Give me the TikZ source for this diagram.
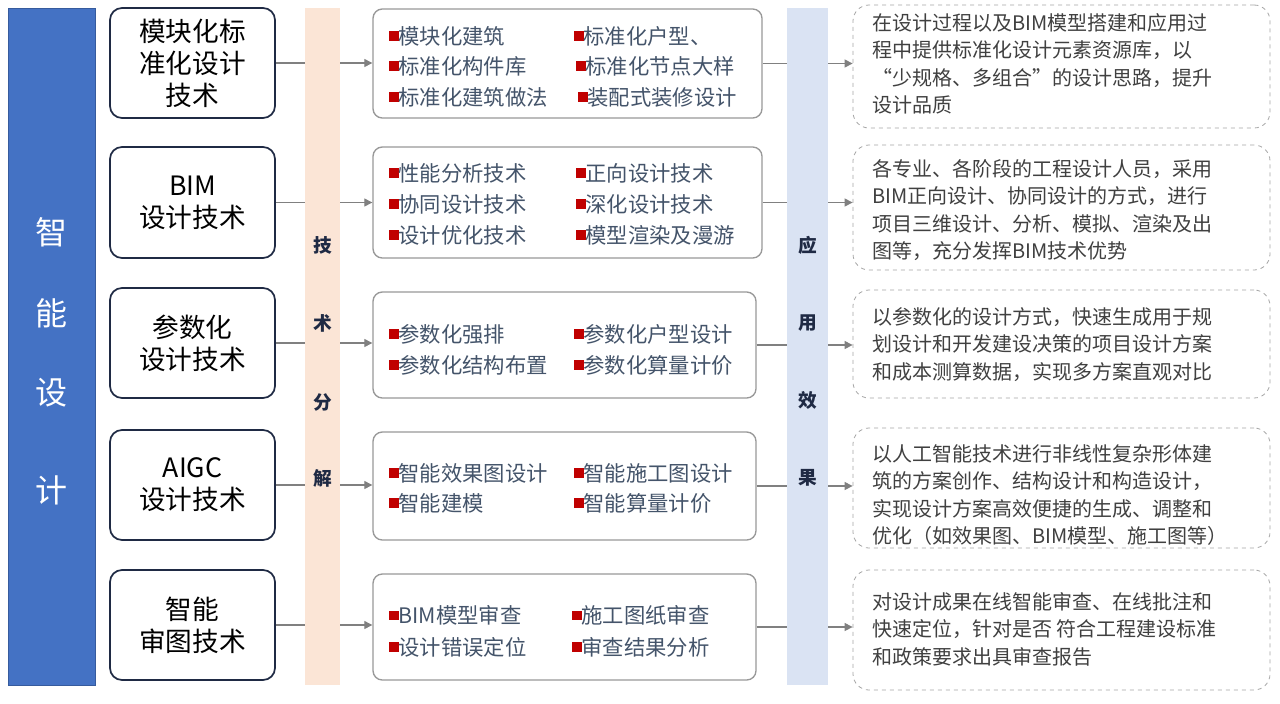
\documentclass[tikz,border=0pt]{standalone}
\usepackage{fontspec}
\setmainfont{Noto Sans CJK SC}
\usetikzlibrary{arrows.meta}
\definecolor{bluebar}{HTML}{4472C4}
\definecolor{peach}{HTML}{FBE5D6}
\definecolor{lblue}{HTML}{DAE3F3}
\definecolor{navy}{HTML}{1F2A44}
\definecolor{txt}{HTML}{44546A}
\definecolor{sq}{HTML}{C00000}
\definecolor{gtxt}{HTML}{404040}
\tikzset{
 lbox/.style={draw=navy,line width=1.3pt,rounded corners=9pt,fill=white,font=\fontsize{20}{24}\selectfont,align=center,text=black},
 mbox/.style={draw=gray!80,line width=1pt,rounded corners=7pt,fill=white},
 rbox/.style={draw=gray!70,dashed,line width=0.6pt,rounded corners=12pt,fill=white},
 item/.style={anchor=west,inner sep=0pt,font=\fontsize{16}{18}\selectfont,text=txt},
 rtxt/.style={anchor=north west,align=left,inner sep=0pt,font=\fontsize{15}{20.6}\selectfont,text=gtxt},
 conn/.style={draw=gray,line width=0.8pt},
 arr/.style={conn,-{Triangle[length=6pt,width=6pt]}},
 bartxt/.style={font=\bfseries\fontsize{14}{16}\selectfont,text=navy},
}
\newcommand{\sqm}{{\color{sq}\raisebox{2.5pt}{\rule{7pt}{7pt}}}}
\begin{document}
\begin{tikzpicture}[x=0.75pt,y=-0.75pt]
\useasboundingbox (0,0) rectangle (1280,703);
\fill[white] (0,0) rectangle (1280,703);
% bars
\node[fill=bluebar,draw=bluebar!80!black,minimum width=87*0.75pt,minimum height=677*0.75pt,inner sep=0pt] (zn) at (51.5,346.5) {};
\foreach \c/\y in {智/232,能/313,设/393,计/490}{\node[text=white,font=\fontsize{24}{26}\selectfont] at (51.5,\y) {\c};}
\node[fill=peach,minimum width=35*0.75pt,minimum height=677*0.75pt,inner sep=0pt] (js) at (322.5,346.5) {};
\foreach \c/\y in {技/245,术/323,分/402,解/478}{\node[bartxt] at (322.5,\y) {\c};}
\node[fill=lblue,minimum width=41*0.75pt,minimum height=677*0.75pt,inner sep=0pt] (yy) at (807.5,346.5) {};
\foreach \c/\y in {应/245,用/323,效/400,果/478}{\node[bartxt] at (807.5,\y) {\c};}
% rows: left boxes
\node[lbox,minimum width=165*0.75pt,minimum height=110*0.75pt] (l1) at (192.5,63) {模块化标\\准化设计\\技术};
\node[lbox,minimum width=165*0.75pt,minimum height=111*0.75pt] (l2) at (192.5,202.5) {BIM\\设计技术};
\node[lbox,minimum width=165*0.75pt,minimum height=110*0.75pt] (l3) at (192.5,343) {参数化\\设计技术};
\node[lbox,minimum width=165*0.75pt,minimum height=110*0.75pt] (l4) at (192.5,485) {AIGC\\设计技术};
\node[lbox,minimum width=165*0.75pt,minimum height=110*0.75pt] (l5) at (192.5,625) {智能\\审图技术};
% middle boxes
\node[mbox,minimum width=389*0.75pt,minimum height=109*0.75pt] (m1) at (567.5,63.5) {};
\node[mbox,minimum width=389*0.75pt,minimum height=111*0.75pt] (m2) at (567.5,202.5) {};
\node[mbox,minimum width=383*0.75pt,minimum height=106*0.75pt] (m3) at (564.5,345) {};
\node[mbox,minimum width=383*0.75pt,minimum height=108*0.75pt] (m4) at (564.5,486) {};
\node[mbox,minimum width=383*0.75pt,minimum height=106*0.75pt] (m5) at (564.5,627) {};
% items
\node[item] (a1) at (389,36) {\sqm 模块化建筑};
\node[item] (a2) at (574,36) {\sqm 标准化户型、};
\node[item] (a3) at (389,66) {\sqm 标准化构件库};
\node[item] (a4) at (576,66) {\sqm 标准化节点大样};
\node[item] (a5) at (389,97) {\sqm 标准化建筑做法};
\node[item] (a6) at (578,97) {\sqm 装配式装修设计};
\node[item] (b1) at (389,173) {\sqm 性能分析技术};
\node[item] (b2) at (576,173) {\sqm 正向设计技术};
\node[item] (b3) at (389,204) {\sqm 协同设计技术};
\node[item] (b4) at (576,204) {\sqm 深化设计技术};
\node[item] (b5) at (389,235) {\sqm 设计优化技术};
\node[item] (b6) at (576,235) {\sqm 模型渲染及漫游};
\node[item] (c1) at (389,334) {\sqm 参数化强排};
\node[item] (c2) at (574,334) {\sqm 参数化户型设计};
\node[item] (c3) at (389,365) {\sqm 参数化结构布置};
\node[item] (c4) at (574,365) {\sqm 参数化算量计价};
\node[item] (d1) at (389,473) {\sqm 智能效果图设计};
\node[item] (d2) at (574,473) {\sqm 智能施工图设计};
\node[item] (d3) at (389,503) {\sqm 智能建模};
\node[item] (d4) at (574,503) {\sqm 智能算量计价};
\node[item] (e1) at (389,615) {\sqm BIM模型审查};
\node[item] (e2) at (572,615) {\sqm 施工图纸审查};
\node[item] (e3) at (389,647) {\sqm 设计错误定位};
\node[item] (e4) at (572,647) {\sqm 审查结果分析};
% right boxes
\node[rbox,minimum width=417*0.75pt,minimum height=123*0.75pt] (r1) at (1061.5,66.5) {};
\node[rbox,minimum width=417*0.75pt,minimum height=125*0.75pt] (r2) at (1061.5,207.5) {};
\node[rbox,minimum width=417*0.75pt,minimum height=108*0.75pt] (r3) at (1061.5,344) {};
\node[rbox,minimum width=417*0.75pt,minimum height=120*0.75pt] (r4) at (1061.5,488) {};
\node[rbox,minimum width=417*0.75pt,minimum height=120*0.75pt] (r5) at (1061.5,630) {};
\node[rtxt] (t1) at (872,13) {在设计过程以及BIM模型搭建和应用过\\程中提供标准化设计元素资源库，以\\“少规格、多组合”的设计思路，提升\\设计品质};
\node[rtxt] (t2) at (872,159) {各专业、各阶段的工程设计人员，采用\\BIM正向设计、协同设计的方式，进行\\项目三维设计、分析、模拟、渲染及出\\图等，充分发挥BIM技术优势};
\node[rtxt] (t3) at (872,307) {以参数化的设计方式，快速生成用于规\\划设计和开发建设决策的项目设计方案\\和成本测算数据，实现多方案直观对比};
\node[rtxt] (t4) at (872,444) {以人工智能技术进行非线性复杂形体建\\筑的方案创作、结构设计和构造设计，\\实现设计方案高效便捷的生成、调整和\\优化（如效果图、BIM模型、施工图等）};
\node[rtxt] (t5) at (872,592) {对设计成果在线智能审查、在线批注和\\快速定位，针对是否 符合工程建设标准\\和政策要求出具审查报告};
% connectors
\foreach \i in {1,...,5}{
 \draw[conn] (l\i.east) -- (l\i.east -| js.west);
 \draw[arr] (l\i.east -| js.east) -- (l\i.east -| m\i.west);
 \draw[conn] (m\i.east) -- (m\i.east -| yy.west);
 \draw[arr] (m\i.east -| yy.east) -- (m\i.east -| r\i.west);
}
\end{tikzpicture}
\end{document}
